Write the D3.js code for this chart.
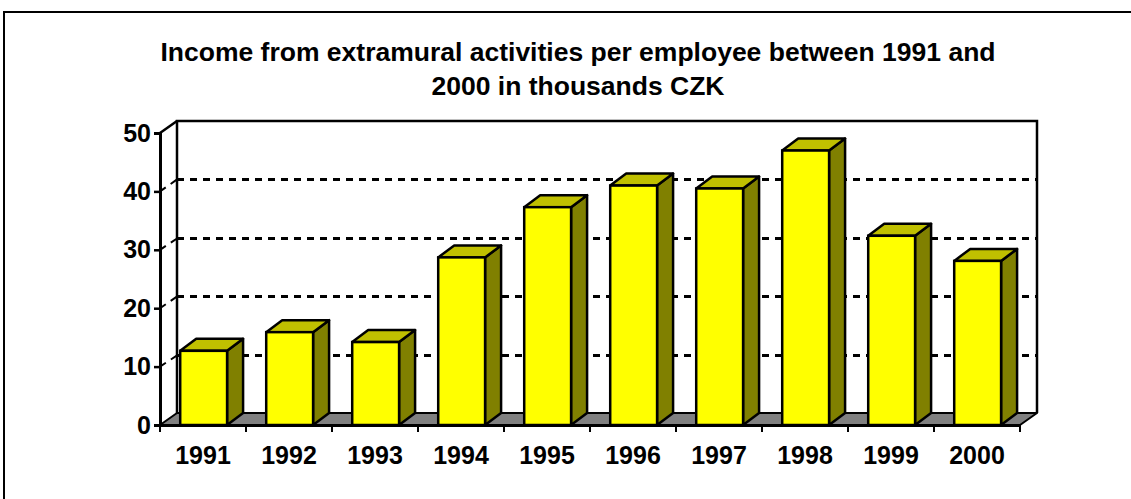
<!DOCTYPE html>
<html>
<head>
<meta charset="utf-8">
<script src="https://cdn.jsdelivr.net/npm/d3@7"></script>
<style>
  body { margin: 0; background: #fff; }
  svg { display: block; }
  text { font-family: Arial, "Liberation Sans", sans-serif; font-weight: bold; fill: #000; }
</style>
</head>
<body>
<svg width="1131" height="499"></svg>
<script>
// data
const years = ["1991", "1992", "1993", "1994", "1995", "1996", "1997", "1998", "1999", "2000"];
const income = [12.7, 15.9, 14.2, 28.7, 37.3, 41.0, 40.5, 47.0, 32.4, 28.1];
const yTicks = [0, 10, 20, 30, 40, 50];
const titleLines = ["Income from extramural activities per employee between 1991 and", "2000 in thousands CZK"];

var svg = d3.select("svg");

// depth offset of the 3d box
var dx = 17, dy = -12;

var x = d3.scaleBand().domain(years).range([160, 1020]);
var y = d3.scaleLinear().domain([0, 50]).range([425, 133]);

// outer frame
svg.append("rect")
  .attr("x", 4).attr("y", 12)
  .attr("width", 1140).attr("height", 500)
  .attr("fill", "none").attr("stroke", "#000").attr("stroke-width", 2);

// title
svg.selectAll(".title")
  .data(titleLines)
  .enter()
  .append("text")
  .attr("x", 578)
  .attr("y", (d, i) => 61 + i * 34)
  .attr("text-anchor", "middle")
  .style("font-size", "26.5px")
  .text(d => d);

var x0 = x.range()[0], x1 = x.range()[1];

// gridlines on back wall and side wall
yTicks.filter(t => t > 0 && t < 50).forEach(function(t) {
  var gy = Math.round(y(t) + dy) + 0.5;
  svg.append("line")
    .attr("x1", x0 + dx).attr("x2", x1 + dx)
    .attr("y1", gy).attr("y2", gy)
    .attr("stroke", "#000")
    .attr("stroke-width", 3)
    .attr("stroke-dasharray", "7,6");
  svg.append("line")
    .attr("x1", x0).attr("x2", x0 + dx)
    .attr("y1", y(t)).attr("y2", gy)
    .attr("stroke", "#000")
    .attr("stroke-width", 2)
    .attr("stroke-dasharray", "7,6");
});

// back wall edges
svg.append("path")
  .attr("d", "M" + (x0 + dx) + "," + (y(0) + dy) + "V" + (y(50) + dy) + "H" + (x1 + dx) + "V" + (y(0) + dy))
  .attr("fill", "none").attr("stroke", "#000").attr("stroke-width", 2.5);
svg.append("line")
  .attr("x1", x0).attr("x2", x0 + dx)
  .attr("y1", y(50)).attr("y2", y(50) + dy)
  .attr("stroke", "#000").attr("stroke-width", 2.5);

// floor
svg.append("path")
  .attr("d", "M" + x0 + "," + y(0) + "L" + x1 + "," + y(0) + "L" + (x1 + dx) + "," + (y(0) + dy) + "L" + (x0 + dx) + "," + (y(0) + dy) + "Z")
  .attr("fill", "#808080").attr("stroke", "#000").attr("stroke-width", 2)
  .attr("stroke-linejoin", "round");

// bars
var bw = x.bandwidth() * 0.545;
var boff = x.bandwidth() * 0.235;
var bd = 16;
var bars = svg.selectAll(".bar")
  .data(years.map((d, i) => ({ year: d, value: income[i] })))
  .enter()
  .append("g");

bars.append("path") // side
  .attr("d", function(d) {
    var l = x(d.year) + boff + bw, t = y(d.value), b = y(0);
    return "M" + l + "," + b + "L" + l + "," + t + "L" + (l + bd) + "," + (t + dy) + "L" + (l + bd) + "," + (b + dy) + "Z";
  })
  .attr("fill", "#808000").attr("stroke", "#000").attr("stroke-width", 2.5).attr("stroke-linejoin", "round");

bars.append("path") // top
  .attr("d", function(d) {
    var l = x(d.year) + boff, t = y(d.value);
    return "M" + l + "," + t + "L" + (l + bw) + "," + t + "L" + (l + bw + bd) + "," + (t + dy) + "L" + (l + bd) + "," + (t + dy) + "Z";
  })
  .attr("fill", "#C0C000").attr("stroke", "#000").attr("stroke-width", 2.5).attr("stroke-linejoin", "round");

bars.append("rect") // front
  .attr("x", d => x(d.year) + boff)
  .attr("y", d => y(d.value))
  .attr("width", bw)
  .attr("height", d => y(0) - y(d.value))
  .attr("fill", "#FFFF00").attr("stroke", "#000").attr("stroke-width", 2.5);

// y axis
var yAxis = svg.append("g")
  .attr("transform", "translate(" + x0 + ",0)")
  .call(d3.axisLeft(y).tickValues(yTicks).tickSize(6).tickPadding(3));
yAxis.select(".domain").attr("stroke-width", 3);
yAxis.selectAll(".tick line").attr("stroke-width", 2.5);
yAxis.selectAll(".tick text").style("font-size", "25px").attr("font-family", null);

// x axis
var xAxis = svg.append("g")
  .attr("transform", "translate(0," + y(0) + ")")
  .call(d3.axisBottom(x).tickSize(0).tickSizeOuter(0).tickPadding(21));
xAxis.select(".domain").attr("stroke-width", 3);
xAxis.selectAll(".tick text").style("font-size", "25px").attr("font-family", null);
xAxis.selectAll(".sep")
  .data(years.concat(["end"]))
  .enter()
  .append("line")
  .attr("x1", (d, i) => x0 + i * x.step())
  .attr("x2", (d, i) => x0 + i * x.step())
  .attr("y1", 0).attr("y2", 7)
  .attr("stroke", "#000").attr("stroke-width", 2);
</script>
</body>
</html>
